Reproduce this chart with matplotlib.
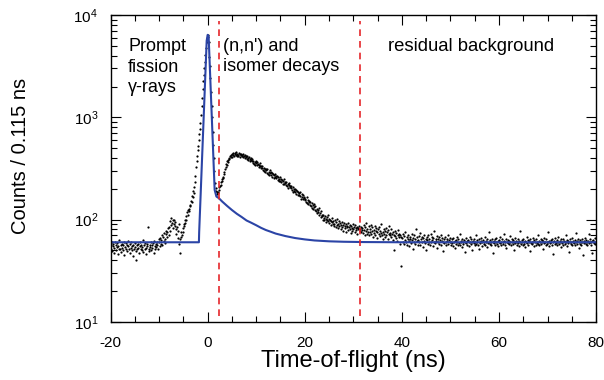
import matplotlib
matplotlib.use("Agg")
import matplotlib.pyplot as plt
from matplotlib.ticker import MultipleLocator, LogLocator, NullFormatter
import numpy as np

plt.rcParams['font.family'] = ['Liberation Sans', 'DejaVu Sans']
plt.rcParams['mathtext.fontset'] = 'custom'
plt.rcParams['mathtext.rm'] = 'Liberation Sans'
plt.rcParams['mathtext.it'] = 'Liberation Sans:italic'
plt.rcParams['mathtext.bf'] = 'Liberation Sans:bold'
plt.rcParams['axes.unicode_minus'] = False

# time-of-flight histogram, 0.115 ns bins starting at -20 ns
bin_width = 0.115
t_start = -20.0

# counts per bin
bg_early = [56, 52, 60, 49, 55, 58, 47, 53, 61, 57, 50, 54, 59, 46, 55, 52, 63, 51, 56, 48,
            58, 53, 50, 57, 61, 45, 54, 59, 52, 56, 49, 62, 55, 51, 47, 58, 53, 60, 50, 55,
            57, 44, 52, 59, 54, 49, 40, 56, 51, 58, 53, 47, 55, 60, 52, 57, 50, 54, 63, 48,
            56, 59, 51, 53, 46, 58, 55, 84, 52, 49, 57, 54, 60, 50, 56, 53, 59, 47, 62, 55,
            51, 58, 54, 60, 57, 52, 64]
pre_bump = [60, 55, 66, 58, 63, 70, 57, 68, 62, 74, 65, 59, 72, 78, 67, 75, 82, 70,
            85, 78, 96, 88, 104, 92, 100, 83, 98, 90, 86, 94, 80,
            72, 84, 66, 78, 58, 90, 64, 47, 75, 68,
            70, 82, 76, 90, 86, 98, 93, 108, 100, 118, 112, 125, 120,
            128, 140, 135, 152, 148, 170, 165, 190, 182, 210]
prompt_peak = [235, 265, 330, 375, 420, 480, 520, 600, 680, 760, 880, 1050, 1300, 1560,
               1900, 2250, 2600, 3050, 3500, 4100, 4800, 5400, 6000,
               6400,
               6100, 5400, 3900, 3200, 2400, 1750, 1300, 1000, 720, 540, 400, 300, 230,
               205, 190, 184, 176, 188, 180, 196, 210]
hump = [215, 232, 220, 248, 240, 262, 255, 290, 280, 315, 330, 352, 340, 372, 365,
        385, 402, 395, 418, 410, 432, 405, 440, 425, 452, 418, 437, 446, 428, 460,
        415, 442, 430, 421, 448, 412, 436, 425, 440, 418,
        428, 405, 440, 415, 398, 432, 410, 420,
        395, 418, 402, 380, 410, 392, 375, 404, 386,
        372, 390, 360, 378, 352, 368, 345, 370, 355,
        362, 338, 350, 325, 344, 332, 355, 320, 336,
        318, 332, 305, 322, 298, 315, 290, 310,
        305, 288, 312, 280, 295, 275, 302, 284, 292,
        270, 288, 262, 278, 255, 272, 282, 258, 266,
        255, 268, 245, 260, 240, 252, 262, 238,
        250, 232, 244, 225, 238, 248, 222, 235, 228,
        220, 232, 212, 225, 205, 218, 228, 208, 215,
        202, 214, 195, 206, 188, 200, 192, 198,
        185, 196, 178, 190, 172, 186, 180, 174, 188,
        170, 160, 176, 165, 158, 172, 162, 168, 155,
        158, 150, 165, 146, 155, 142, 152, 148,
        140, 150, 135, 144, 130, 138, 128, 142, 133,
        125, 136, 120, 128, 115, 124, 118, 130, 112,
        115, 105, 120, 108, 112, 100, 110, 104,
        98, 108, 102, 94, 105, 99, 110, 96, 101,
        92, 100, 88, 97, 94, 103, 90, 96, 86]
tail = [91, 98, 85, 94, 88, 102, 83, 90, 96, 86,
        92, 80, 89, 95, 84, 88, 78, 93, 86, 82,
        90, 76, 87, 84, 92, 79, 85, 81, 88, 74,
        86, 83, 78, 90, 80, 84, 76, 88, 82, 79,
        85, 72, 83, 80, 87, 77, 81, 75, 84, 79,
        82, 74, 88, 79, 71, 85, 77, 92, 73, 80,
        76, 86, 70, 81, 75, 89, 72, 78, 84, 68,
        79, 74, 87, 71, 77, 82, 66, 75, 80, 73,
        85, 69, 78, 74, 90, 71, 76, 64, 81, 72,
        77, 68, 83, 70, 75, 79, 65, 73, 86, 70,
        74, 67, 80, 72, 63, 76, 50, 71, 69, 78,
        66, 74, 62, 70, 79, 68, 73, 58, 71, 67]
bg_late = [35, 66, 72, 61, 58, 69, 63, 75, 60, 67,
           57, 64, 71, 62, 55, 68, 65, 59, 73, 63,
           66, 52, 70, 61, 64, 58, 80, 62, 67, 56,
           63, 69, 60, 74, 57, 65, 61, 68, 54, 66,
           62, 71, 59, 64, 50, 67, 63, 58, 70, 61,
           65, 57, 72, 60, 63, 68, 55, 66, 61, 77,
           59, 64, 62, 69, 53, 65, 60, 67, 58, 63,
           71, 57, 62, 66, 60, 49, 64, 59, 68, 61,
           56, 65, 62, 70, 58, 63, 60, 66,
           61, 57, 64, 59, 55, 66, 60, 62, 53, 63,
           58, 68, 61, 56, 64, 59, 72, 57, 62, 60,
           54, 65, 61, 58, 63, 48, 60, 66, 59, 62,
           57, 63, 60, 55, 67, 61, 58, 64, 50, 60,
           62, 59, 65, 56, 61, 70, 58, 63, 60, 57,
           64, 52, 61, 59, 66, 62, 55, 60, 63, 58,
           61, 68, 57, 62, 60, 54, 64, 59, 61, 76,
           58, 63, 60, 56, 65, 61, 47, 62, 59, 64,
           57, 60, 66, 58, 62, 55, 61, 63, 59, 67,
           60, 56, 64, 61, 58, 73, 62, 57, 60, 65,
           53, 61, 59, 63, 58, 62, 69, 60, 56, 64,
           61, 58, 63, 50, 60, 66, 59, 62, 57, 61,
           64, 59, 55, 62, 60, 78, 58, 63, 61, 56,
           65, 60, 58, 62, 54, 61, 67, 59, 63, 57,
           60, 62, 49, 64, 59, 61, 58, 66, 60, 55,
           63, 61, 57, 64, 60, 59, 71, 58, 62, 56,
           61, 65, 58, 60, 63, 52, 62, 59, 66, 60,
           57, 64, 61, 58, 75, 60, 55, 62, 59, 63,
           61, 57, 64, 60, 46, 62, 58, 66, 61, 59,
           63, 56, 60, 68, 58, 61, 62, 54, 64, 59,
           60, 65, 57, 62, 61, 58, 70, 60, 55, 63,
           59, 62, 48, 61, 64, 58, 60, 66, 57, 62,
           61, 59, 63, 56, 74, 60, 58, 62, 65, 53,
           60, 63, 58, 61, 57, 64, 60, 45, 62, 59,
           66, 61, 58, 63, 60, 56, 62, 72, 59, 61,
           64, 57, 60, 62, 47, 63, 59, 61, 66, 58,
           60]

counts = np.array(bg_early + pre_bump + prompt_peak + hump + tail + bg_late, dtype=float)
tof = t_start + bin_width * np.arange(len(counts))

# fitted curve (prompt gamma peak + decay on flat background), read as knots
fit_t = [-20, -1.8, -1.75, -0.2, 0.0, 0.2, 1.44, 1.8, 2.3, 3, 4, 5, 6, 7, 8, 9, 10,
         11, 12, 13, 14, 16, 18, 20, 22, 25, 28, 32, 40, 80]
fit_y = [60, 60, 75, 5600, 6400, 6200, 195, 168, 162, 150, 136, 124, 114, 106, 98,
         93, 88, 83, 79, 76, 73, 69, 66, 64, 62.5, 61.3, 60.7, 60.3, 60, 60]

# region boundaries (ns)
cuts = [2.33, 31.4]

fig = plt.figure(figsize=(6.04, 3.80), dpi=100)
ax = fig.add_axes([0.183, 0.153, 0.804, 0.8075])

ax.plot(tof, counts, 'o', color='black', ms=1.6, mew=0)
ax.plot(fit_t, fit_y, color='#2b44a6', lw=1.5)
for c in cuts:
    ax.axvline(c, ymin=0.02, ymax=0.98, color='#e5262b', lw=1.2, ls=(0, (4, 3)))

ax.set_yscale('log')
ax.set_xlim(-20, 80)
ax.set_ylim(10, 1e4)
ax.xaxis.set_major_locator(MultipleLocator(20))
ax.xaxis.set_minor_locator(MultipleLocator(5))
ax.yaxis.set_major_locator(LogLocator(base=10))
ax.yaxis.set_minor_locator(LogLocator(base=10, subs=np.arange(2, 10)))
ax.yaxis.set_minor_formatter(NullFormatter())

ax.tick_params(which='both', direction='in', top=True, right=True, width=0.8)
ax.tick_params(which='major', length=7)
ax.tick_params(which='minor', length=4)
ax.tick_params(axis='x', labelsize=11, pad=10)
ax.tick_params(axis='y', labelsize=11, pad=9)
for s in ax.spines.values():
    s.set_linewidth(1.0)

ax.set_xlabel('Time-of-flight (ns)', fontsize=17, labelpad=0)
ax.set_ylabel('Counts / 0.115 ns', fontsize=14.5)
ax.yaxis.set_label_coords(-0.166, 0.54)

ax.text(0.036, 0.925, 'Prompt\nfission\nγ-rays', transform=ax.transAxes,
        fontsize=13, va='top', ha='left', linespacing=1.27)
ax.text(0.232, 0.925, "(n,n') and\nisomer decays", transform=ax.transAxes,
        fontsize=13, va='top', ha='left', linespacing=1.2)
ax.text(0.572, 0.925, 'residual background', transform=ax.transAxes,
        fontsize=13.3, va='top', ha='left')

fig.savefig('out.png', dpi=100)
